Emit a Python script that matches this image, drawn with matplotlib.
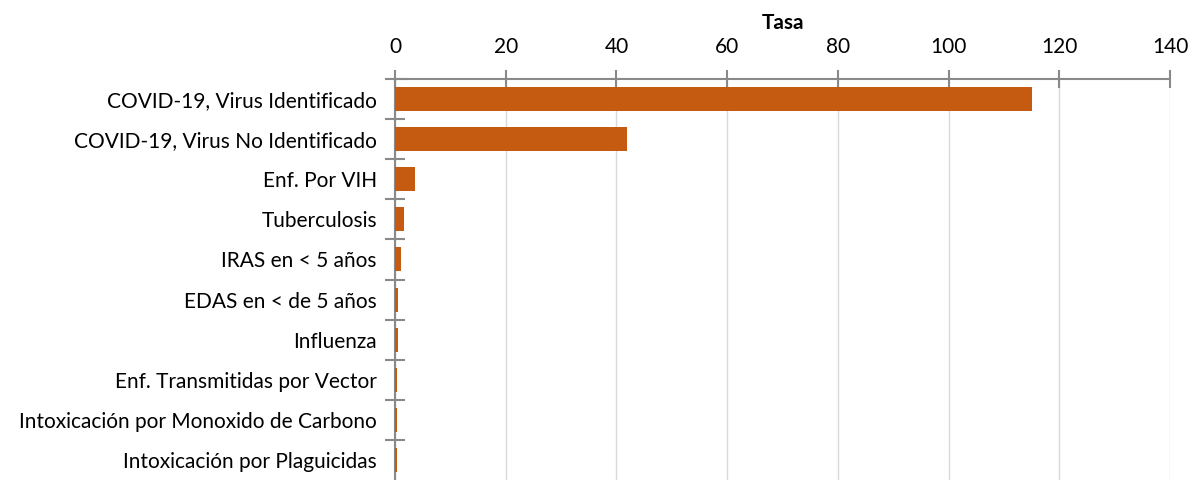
import matplotlib
matplotlib.use("Agg")
import matplotlib.pyplot as plt
import numpy as np

categories = [
    "COVID-19, Virus Identificado",
    "COVID-19, Virus No Identificado",
    "Enf. Por VIH",
    "Tuberculosis",
    "IRAS en < 5 años",
    "EDAS en < de 5 años",
    "Influenza",
    "Enf. Transmitidas por Vector",
    "Intoxicación por Monoxido de Carbono",
    "Intoxicación por Plaguicidas",
]
tasa = [115.1, 41.9, 3.7, 1.7, 1.0, 0.6, 0.55, 0.45, 0.4, 0.3]
xticks = [0, 20, 40, 60, 80, 100, 120, 140]

plt.rcParams['font.family'] = ['Lato', 'DejaVu Sans']

fig = plt.figure(figsize=(11.9, 4.8), dpi=100)
ax = fig.add_axes([395/1190, 0.0, 775/1190, 1 - 79/480])

y = np.arange(len(categories))
ax.barh(y, tasa, height=0.6, color="#C55A11", zorder=3)

ax.set_xlim(0, 140)
ax.set_ylim(len(categories) - 0.5, -0.5)
ax.xaxis.tick_top()
ax.xaxis.set_label_position('top')
ax.set_xticks(xticks)
ax.set_xticklabels([str(v) for v in xticks], fontsize=15)
ax.set_xlabel("Tasa", fontsize=15, fontweight='bold', labelpad=6)
ax.tick_params(axis='x', direction='inout', length=13, width=1.5, color='#898989', pad=9)

ax.set_yticks(y)
ax.set_yticklabels(categories, fontsize=15)
ax.set_yticks(np.arange(len(categories)) - 0.5, minor=True)
ax.tick_params(axis='y', which='major', length=0, pad=13)
ax.tick_params(axis='y', which='minor', direction='inout', length=14, width=1.5, color='#898989')

ax.grid(axis='x', color='#D9D9D9', linewidth=1, zorder=0)
for s in ['right', 'bottom']:
    ax.spines[s].set_visible(False)
for s in ['left', 'top']:
    ax.spines[s].set_color('#898989')
    ax.spines[s].set_linewidth(1.5)
    ax.spines[s].set_zorder(2)

fig.savefig("out.png", dpi=100)
